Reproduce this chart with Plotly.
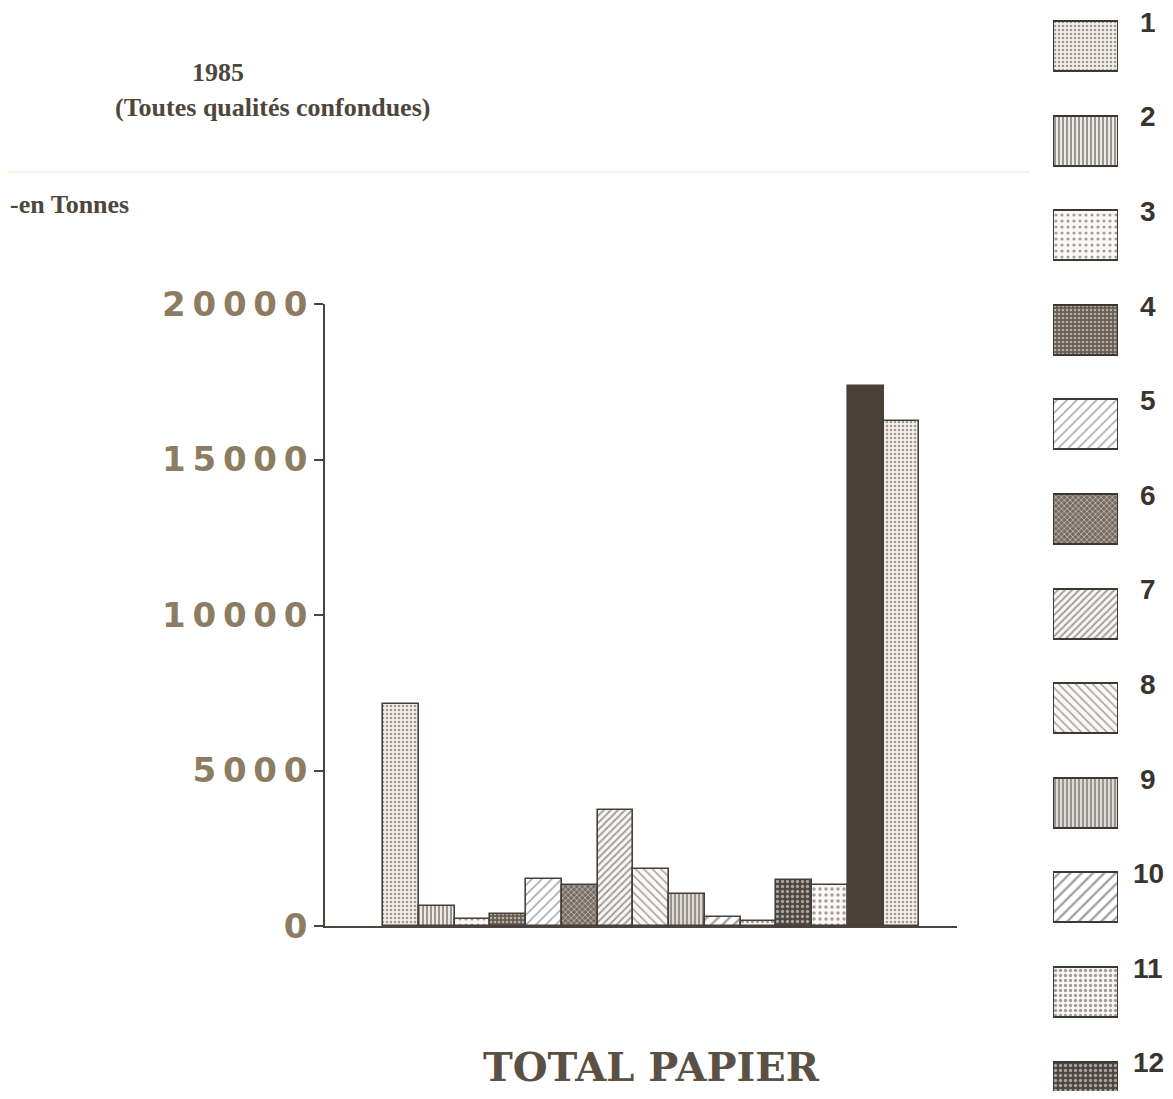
import plotly.graph_objects as go

# ---- data ----
categories = [str(i) for i in range(1, 16)]
values = [7150, 650, 220, 400, 1500, 1320, 3720, 1840, 1040, 290, 150, 1470, 1320, 17350, 16250]
legend_labels = [str(i) for i in range(1, 16)]
y_ticks = [0, 5000, 10000, 15000, 20000]
y_ticklabels = ["0", "5000", "10000", "15000", "20000"]

# ---- styles ----
shapes_ = [".", "|", ".", ".", "/", "x", "/", "\\", "|", "/", ".", ".", ".", "", "."]
sizes_ = [4, 4, 6, 4, 7, 4, 5, 6, 4, 8, 5, 5, 6, 4, 4]
solid_ = [0.35, 0.5, 0.22, 0.35, 0.22, 0.4, 0.38, 0.25, 0.55, 0.3, 0.35, 0.35, 0.25, 0.3, 0.35]
fg_ = ["#8a8078", "#524a42", "#7a726a", "#d6cec6", "#6e665e", "#b2a89e", "#5a524a", "#6e665e",
       "#4a423a", "#3a3430", "#5a524a", "#cfc7bf", "#6e665e", "#4a4139", "#8a8078"]
bg_ = ["#f4eee8", "#efe9e3", "#fbf8f5", "#6a5e54", "#ffffff", "#776b61", "#faf7f4", "#fbf8f5",
       "#e8e2dc", "#ffffff", "#faf7f4", "#4e463e", "#fbf8f5", "#4a4139", "#f6f0ea"]

x_pos = list(range(1, len(values) + 1))
leg_pos = list(range(1, len(legend_labels) + 1))

# page has an 8px body margin: size the figure so the page fits the window
OFF = 8
W, H = 1173 - 2 * OFF, 1099 - 2 * OFF


def fx(px):
    return (px - OFF) / W


def fy(py):
    return 1 - (py - OFF) / H


pattern = dict(shape=shapes_, size=sizes_, solidity=solid_,
               fgcolor=fg_, bgcolor=bg_, fillmode="overlay")

fig = go.Figure()
fig.add_trace(go.Bar(
    x=x_pos, y=values, width=1.0,
    marker=dict(color=bg_, line=dict(color="#463f3a", width=1.6), pattern=pattern),
    showlegend=False, hoverinfo="y",
))
fig.add_trace(go.Bar(
    y=leg_pos, x=[1] * len(leg_pos), base=0, orientation="h", width=0.53,
    xaxis="x2", yaxis="y2",
    marker=dict(color=bg_, line=dict(color="#3e3834", width=2), pattern=pattern),
    showlegend=False, hoverinfo="skip",
))

ax_left, ax_right = 325, 957
y0_px, y20_px = 926, 304
bar_left, bar_w = 383, 35.75
x_lo = 0.5 - (bar_left - ax_left) / bar_w
x_hi = 0.5 + (ax_right - bar_left) / bar_w

leg_top = 46 - OFF
leg_step = 94.6

annotations = []
for p, lab in zip(leg_pos, legend_labels):
    annotations.append(dict(
        x=fx(1148), xref="paper", xanchor="center",
        y=p - 0.25, yref="y2", yanchor="middle",
        text="<b>" + lab + "</b>", showarrow=False,
        font=dict(family="Liberation Sans, Arial, sans-serif", size=28, color="#3a3430"),
    ))

serif = "Liberation Serif, Times New Roman, serif"
tcol = "#4e463c"
annotations += [
    dict(x=fx(218), y=fy(73), xref="paper", yref="paper", xanchor="center", yanchor="middle",
         text="<b>1985</b>", showarrow=False, font=dict(family=serif, size=26, color=tcol)),
    dict(x=fx(272), y=fy(107), xref="paper", yref="paper", xanchor="center", yanchor="middle",
         text="<b>(Toutes qualités confondues)</b>",
         showarrow=False, font=dict(family=serif, size=26, color=tcol)),
    dict(x=fx(8), y=fy(204), xref="paper", yref="paper", xanchor="left", yanchor="middle",
         text="<b>-en Tonnes</b>",
         showarrow=False, font=dict(family=serif, size=26, color=tcol)),
    dict(x=fx(651), y=0, xref="paper", yref="paper", xanchor="center", yanchor="bottom",
         text="<b>TOTAL PAPIER</b>", borderpad=0,
         showarrow=False, font=dict(family="DejaVu Serif, serif", size=40, color="#5a5044")),
]

tick_text = ["\u2009".join(t) for t in y_ticklabels]

fig.update_layout(
    template="none",
    width=W, height=H,
    margin=dict(l=0, r=0, t=0, b=0, autoexpand=False),
    paper_bgcolor="#ffffff", plot_bgcolor="rgba(0,0,0,0)",
    bargap=0,
    xaxis=dict(domain=[fx(ax_left), fx(ax_right)], range=[x_lo, x_hi], automargin=False,
               showticklabels=False, ticks="", showgrid=False, zeroline=False,
               showline=True, linecolor="#4a4440", linewidth=1.5, fixedrange=True),
    yaxis=dict(domain=[fy(y0_px), fy(y20_px)], range=[0, 20000], automargin=False,
               tickvals=y_ticks, ticktext=tick_text,
               ticks="outside", ticklen=9, tickwidth=1.5, tickcolor="#4a4440",
               tickfont=dict(family="DejaVu Sans, sans-serif", size=34, color="#8c7c62",
                             weight="bold"),
               showgrid=False, zeroline=False,
               showline=True, linecolor="#4a4440", linewidth=1.5, fixedrange=True),
    xaxis2=dict(domain=[fx(1053), fx(1118)], range=[0, 1], visible=False, anchor="y2",
                automargin=False),
    yaxis2=dict(domain=[0, 1], range=[1 + (H - leg_top) / leg_step, 1 - leg_top / leg_step],
                visible=False, anchor="x2", automargin=False),
    annotations=annotations,
    shapes=[dict(type="line", xref="paper", yref="paper", x0=0, x1=fx(1030),
                 y0=fy(172), y1=fy(172), line=dict(color="#f3ecd8", width=1.5))],
)

fig.write_html("out.html")
